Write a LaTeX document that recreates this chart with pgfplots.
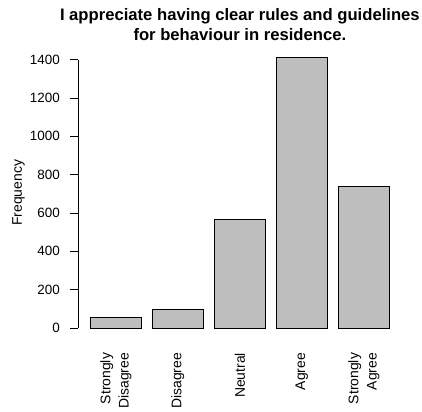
\documentclass[border=0pt]{standalone}
\usepackage{pgfplots}
\pgfplotsset{compat=1.18}
\usepackage{fontspec}
\setmainfont{Liberation Sans}
\definecolor{bargrey}{RGB}{190,190,190}

\pgfplotstableread{
x    y
0.7  56
1.9  95
3.1  567
4.3  1410
5.5  737
}\likert

\begin{document}
\begin{tikzpicture}
\path[use as bounding box] (0,0) rectangle (422bp,412bp);
\begin{axis}[
    at={(78bp,73.2bp)}, anchor=south west,
    scale only axis,
    width=323.7bp, height=291.9bp,
    xmin=-0.032, xmax=6.232,
    ymin=-56.4, ymax=1466.4,
    axis x line=bottom, axis y line=left,
    axis line style={draw=none},
    ybar, bar width=1,
    xtick={0.7,1.9,3.1,4.3,5.5},
    xticklabels={{Strongly\\Disagree},Disagree,Neutral,Agree,{Strongly\\Agree}},
    xtick style={draw=none},
    xticklabel style={rotate=90, anchor=east, align=right, inner sep=0pt,
        xshift=-6bp, font=\fontsize{14}{18.3}\selectfont},
    ytick={0,200,...,1400},
    ytick style={black, line width=0.75bp},
    tick align=outside, major tick length=8bp,
    yticklabel style={anchor=east, inner sep=0pt, xshift=-10bp,
        font=\fontsize{13.5}{16}\selectfont},
    /pgf/number format/assume math mode=true,
    /pgf/number format/1000 sep={},
    ylabel={Frequency},
    ylabel style={at={(axis description cs:0,0.5)}, anchor=south, inner sep=0pt,
        yshift=53bp, font=\fontsize{14}{16}\selectfont},
    title={I appreciate having clear rules and guidelines\\for behaviour in residence.},
    title style={at={(axis description cs:0.5,1)}, anchor=south, align=center,
        inner sep=0pt, yshift=0bp, font=\fontsize{16.7}{20}\selectfont\bfseries},
    clip=false,
]
\addplot[fill=bargrey, draw=black, line width=0.75bp] table[x=x, y=y] {\likert};
\draw[black, line width=0.75bp] (axis cs:-0.032,0) -- (axis cs:-0.032,1400);
\end{axis}
\end{tikzpicture}
\end{document}
